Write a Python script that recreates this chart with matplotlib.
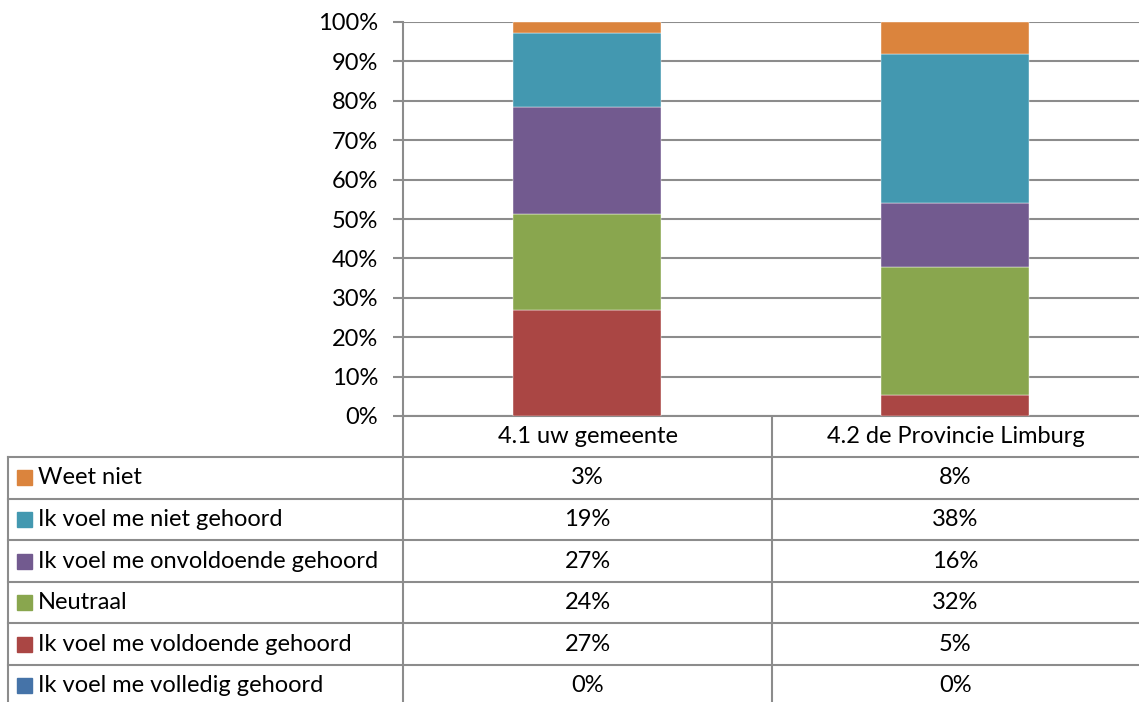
import matplotlib.pyplot as plt
import numpy as np

plt.rcParams['font.family'] = ['Lato', 'DejaVu Sans']

categories = ['4.1 uw gemeente', '4.2 de Provincie Limburg']
series = ['Ik voel me volledig gehoord', 'Ik voel me voldoende gehoord', 'Neutraal',
          'Ik voel me onvoldoende gehoord', 'Ik voel me niet gehoord', 'Weet niet']
colors = ['#4573A8', '#AA4644', '#89A64E', '#725A8F', '#4398B0', '#DB843D']
gemeente = [0.0, 26.9, 24.4, 27.1, 18.8, 2.8]
provincie = [0.0, 5.3, 32.4, 16.3, 37.9, 8.1]
labels_gemeente = ['0%', '27%', '24%', '27%', '19%', '3%']
labels_provincie = ['0%', '5%', '32%', '16%', '38%', '8%']

W, H = 1139, 702
grey = '#8C8C8C'
fs = 17

fig = plt.figure(figsize=(W / 100, H / 100), dpi=100)
ax = fig.add_axes([403 / W, (H - 416) / H, (W - 403) / W, (416 - 22) / H])

values = np.array([gemeente, provincie])
x = np.arange(len(categories))
bottom = np.zeros(len(categories))
for i, name in enumerate(series):
    ax.bar(x, values[:, i], 0.4, bottom=bottom, color=colors[i],
           edgecolor='white', linewidth=0.3, zorder=3)
    bottom += values[:, i]

ax.set_xlim(-0.5, 1.5)
ax.set_ylim(0, 100)
ax.set_yticks(np.arange(0, 101, 10))
ax.set_yticklabels([f'{v}%' for v in range(0, 101, 10)], fontsize=fs)
ax.set_xticks([])
ax.tick_params(axis='y', length=7, width=1.5, color=grey, pad=11)
ax.yaxis.grid(True, color=grey, linewidth=1.5, zorder=0)
for s in ['top', 'right']:
    ax.spines[s].set_visible(False)
for s in ['left', 'bottom']:
    ax.spines[s].set_color(grey)
    ax.spines[s].set_linewidth(1.5)

# data table below the chart
tab = fig.add_axes([0, 0, 1, 1], zorder=-1)
tab.set_xlim(0, W)
tab.set_ylim(H, 0)
tab.axis('off')

top = 457
rh = 41.6
col_x = [403, 772, W]
tab.plot([403, 403], [416, H], color=grey, lw=1.5)
tab.plot([772, 772], [416, H], color=grey, lw=1.5)
tab.plot([8, 8], [top, H], color=grey, lw=1.5)
for k in range(len(series)):
    y = top + k * rh
    tab.plot([8, W], [y, y], color=grey, lw=1.5)

for j, cat in enumerate(categories):
    cx = (col_x[j] + col_x[j + 1]) / 2
    tab.text(cx, (416 + top) / 2, cat, ha='center', va='center', fontsize=fs)

rows = list(range(len(series)))[::-1]
for k, i in enumerate(rows):
    yc = top + (k + 0.5) * rh
    tab.add_patch(plt.Rectangle((17, yc - 7.5), 15, 15, color=colors[i]))
    tab.text(38, yc, series[i], ha='left', va='center', fontsize=fs)
    tab.text((col_x[0] + col_x[1]) / 2, yc, labels_gemeente[i], ha='center', va='center', fontsize=fs)
    tab.text((col_x[1] + col_x[2]) / 2, yc, labels_provincie[i], ha='center', va='center', fontsize=fs)

fig.savefig('out.png', dpi=100)
